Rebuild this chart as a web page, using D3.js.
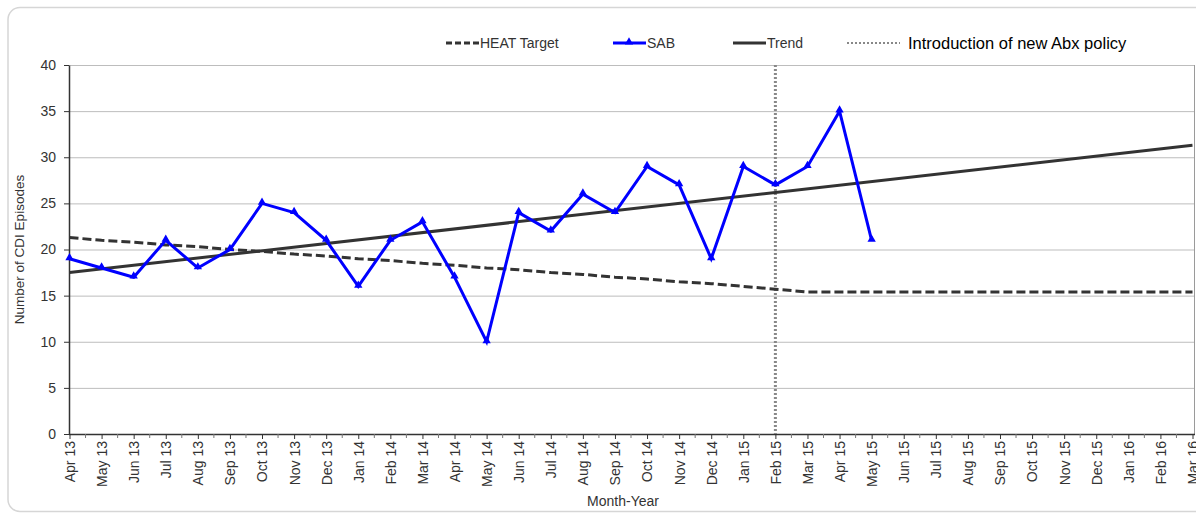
<!DOCTYPE html>
<html>
<head>
<meta charset="utf-8">
<script src="https://cdn.jsdelivr.net/npm/d3@7"></script>
<style>
  body { margin: 0; background: #fff; }
  svg { display: block; font-family: "Liberation Sans", Arial, sans-serif; }
  .chart_text { fill: #333; }
  .axis path, .axis line { stroke: #333; }
  .axis text { fill: #333; }
</style>
</head>
<body>
<div id="chart"></div>
<script>
// month-year categories on the x axis
const months = ['Apr 13','May 13','Jun 13','Jul 13','Aug 13','Sep 13','Oct 13','Nov 13','Dec 13',
  'Jan 14','Feb 14','Mar 14','Apr 14','May 14','Jun 14','Jul 14','Aug 14','Sep 14','Oct 14','Nov 14','Dec 14',
  'Jan 15','Feb 15','Mar 15','Apr 15','May 15','Jun 15','Jul 15','Aug 15','Sep 15','Oct 15','Nov 15','Dec 15',
  'Jan 16','Feb 16','Mar 16'];

// SAB episodes (Apr 13 - May 15)
const sab = [19, 18, 17, 21, 18, 20, 25, 24, 21, 16, 21, 23, 17, 10, 24, 22, 26, 24, 29, 27, 19, 29, 27, 29, 35, 21];

// HEAT target, falls until Mar 15 then stays flat
const heatTarget = [21.3, 21.0, 20.8, 20.5, 20.3, 20.0, 19.8, 19.5, 19.3, 19.0, 18.8, 18.5, 18.3, 18.0,
  17.8, 17.5, 17.3, 17.0, 16.8, 16.5, 16.3, 16.0, 15.7, 15.4, 15.4, 15.4, 15.4, 15.4, 15.4, 15.4,
  15.4, 15.4, 15.4, 15.4, 15.4, 15.4];

// linear trend, end points
const trend = [['Apr 13', 17.5], ['Mar 16', 31.3]];

const policyMonth = 'Feb 15';
const yTicks = [0, 5, 10, 15, 20, 25, 30, 35, 40];

// --- figure dimensions ---
const width = 1196, height = 514;
const margin = [65, 80, 69, 1]; // top, bottom, left, right
const chartW = width - margin[2] - margin[3],
      chartH = height - margin[0] - margin[1];

const svg = d3.select('#chart')
    .append('svg')
    .attr('width', width)
    .attr('height', height);

// outer chart frame (runs off the right edge)
svg.append('rect')
    .attr('x', 8).attr('y', 7.5)
    .attr('width', 1300).attr('height', 504)
    .attr('rx', 12)
    .attr('fill', 'none')
    .attr('stroke', '#d6d6d6')
    .attr('stroke-width', 1.5);

const scaleX = d3.scalePoint(months, [0.5, chartW - 2.5]);
const scaleY = d3.scaleLinear([0, 40], [chartH, 0]);

const chart = svg.append('g')
    .attr('transform', `translate(${margin[2]},${margin[0]})`);

// gridlines
chart.append('g')
    .selectAll('line')
    .data(yTicks.filter(d => d > 0))
    .join('line')
    .attr('x1', 0).attr('x2', chartW)
    .attr('y1', d => scaleY(d) + 0.5).attr('y2', d => scaleY(d) + 0.5)
    .attr('stroke', '#bdbdbd');

// right border of the plot area
chart.append('line')
    .attr('x1', chartW - 0.5).attr('x2', chartW - 0.5)
    .attr('y1', 0).attr('y2', chartH)
    .attr('stroke', '#9a9a9a');

// axes
const axisX = chart.append('g')
    .classed('axis', true)
    .attr('transform', `translate(0,${chartH})`)
    .call(d3.axisBottom(scaleX).tickSize(5).tickSizeOuter(0));
axisX.select('.domain').attr('d', `M0,0.5H${chartW}`).attr('stroke-width', 1.5);
axisX.selectAll('.tick text')
    .attr('font-size', 14)
    .attr('text-anchor', 'end')
    .attr('transform', 'translate(0,7) rotate(-90)')
    .attr('x', 0).attr('y', 0)
    .attr('dy', '0.35em');
axisX.selectAll('.tick line').attr('stroke', '#555');

// minor ticks between months
const step = scaleX.step();
chart.append('g')
    .selectAll('line')
    .data(months.slice(0, -1))
    .join('line')
    .attr('x1', d => scaleX(d) + step / 2).attr('x2', d => scaleX(d) + step / 2)
    .attr('y1', chartH).attr('y2', chartH + 4)
    .attr('stroke', '#777');

const axisY = chart.append('g')
    .classed('axis', true)
    .call(d3.axisLeft(scaleY).tickValues(yTicks).tickSize(5).tickPadding(8).tickSizeOuter(0));
axisY.select('.domain').attr('stroke-width', 1.5);
axisY.selectAll('.tick text').attr('font-size', 14);
axisY.selectAll('.tick line').attr('stroke', '#555');

// policy introduction marker
chart.append('line')
    .attr('x1', scaleX(policyMonth)).attr('x2', scaleX(policyMonth))
    .attr('y1', 0).attr('y2', chartH)
    .attr('stroke', '#888')
    .attr('stroke-width', 3)
    .attr('stroke-dasharray', '2,2');

const line = d3.line()
    .x((d, i) => scaleX(months[i]))
    .y(d => scaleY(d));

// HEAT target
chart.append('path')
    .attr('d', line(heatTarget))
    .attr('fill', 'none')
    .attr('stroke', '#333')
    .attr('stroke-width', 3)
    .attr('stroke-dasharray', '9,4');

// trend
chart.append('path')
    .attr('d', d3.line().x(d => scaleX(d[0])).y(d => scaleY(d[1]))(trend))
    .attr('fill', 'none')
    .attr('stroke', '#333')
    .attr('stroke-width', 3);

// SAB
chart.append('path')
    .attr('d', line(sab))
    .attr('fill', 'none')
    .attr('stroke', '#0000ff')
    .attr('stroke-width', 3)
    .attr('stroke-linejoin', 'miter');

const tri = d3.symbol(d3.symbolTriangle, 30);
chart.append('g')
    .selectAll('path')
    .data(sab)
    .join('path')
    .attr('transform', (d, i) => `translate(${scaleX(months[i])},${scaleY(d) - 1})`)
    .attr('d', tri)
    .attr('fill', '#0000ff');

// axis titles
svg.append('text')
    .classed('chart_text', true)
    .attr('transform', `translate(24,${margin[0] + chartH / 2})rotate(-90)`)
    .attr('text-anchor', 'middle')
    .attr('font-size', 13.5)
    .text('Number of CDI Episodes');

svg.append('text')
    .classed('chart_text', true)
    .attr('x', 623).attr('y', 506)
    .attr('text-anchor', 'middle')
    .attr('font-size', 14)
    .text('Month-Year');

// legend
const legendItems = [
    {name: 'HEAT Target', x: 446, dash: '6,3', color: '#333', size: 14},
    {name: 'SAB', x: 613, dash: null, color: '#0000ff', size: 14, marker: true},
    {name: 'Trend', x: 733, dash: null, color: '#333', size: 14},
    {name: 'Introduction of new Abx policy', x: 847, dash: '2,2', color: '#888', size: 16.5, gap: 8}
];
const legend = svg.append('g').attr('transform', 'translate(0,43)');
const item = legend.selectAll('g')
    .data(legendItems)
    .join('g')
    .attr('transform', d => `translate(${d.x},0)`);
item.append('line')
    .attr('x1', 0).attr('x2', d => d.dash === '2,2' ? 53 : 33)
    .attr('stroke', d => d.color)
    .attr('stroke-width', d => d.dash === '2,2' ? 2 : 3)
    .attr('stroke-dasharray', d => d.dash);
item.filter(d => d.marker)
    .append('path')
    .attr('transform', 'translate(16,-1)')
    .attr('d', tri)
    .attr('fill', '#0000ff');
item.append('text')
    .classed('chart_text', true)
    .attr('x', d => (d.dash === '2,2' ? 53 : 33) + (d.gap || 1))
    .attr('dy', '0.35em')
    .attr('font-size', d => d.size)
    .style('fill', d => d.size > 14 ? '#000' : '#333')
    .text(d => d.name);
</script>
</body>
</html>
